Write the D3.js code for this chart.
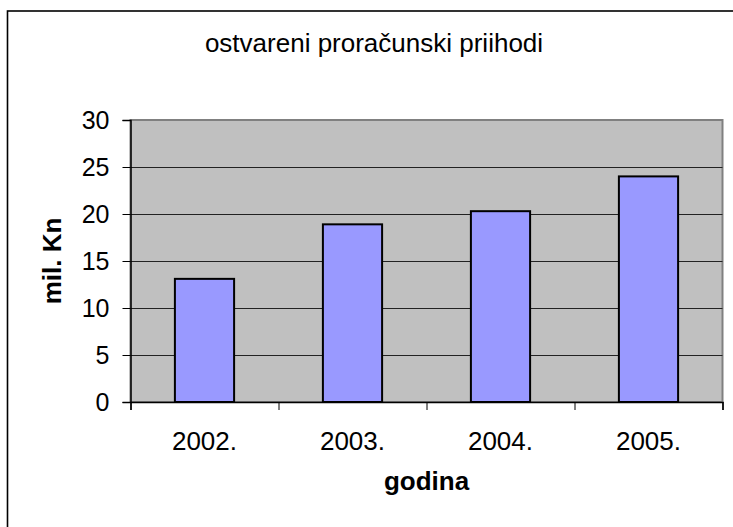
<!DOCTYPE html>
<html>
<head>
<meta charset="utf-8">
<script src="https://cdn.jsdelivr.net/npm/d3@7"></script>
<style>
  body { margin: 0; background: #fff; }
  svg { display: block; font-family: "Liberation Sans", Arial, sans-serif; }
</style>
</head>
<body>
<div id="chart"></div>
<script>
const years = ["2002.", "2003.", "2004.", "2005."];
const prihodi = [13.1, 18.9, 20.3, 24.0];
const yTicks = [0, 5, 10, 15, 20, 25, 30];

const chartTitle = "ostvareni proračunski priihodi";
const xTitle = "godina";
const yTitle = "mil. Kn";

const W = 733, H = 527;
const plot = {left: 130.5, right: 722.5, top: 120, bottom: 402};

const svg = d3.select("#chart")
  .append("svg")
    .attr("width", W)
    .attr("height", H);

// outer chart frame (runs off the right and bottom edge)
svg.append("rect")
  .attr("x", 7.5)
  .attr("y", 11)
  .attr("width", 760)
  .attr("height", 560)
  .attr("fill", "#fff")
  .attr("stroke", "#000")
  .attr("stroke-width", 1.6);

const x = d3.scaleBand()
  .domain(years)
  .range([plot.left, plot.right])
  .paddingInner(0.6)
  .paddingOuter(0.3);

const xEdge = d3.scaleLinear()
  .domain([0, years.length])
  .range([plot.left, plot.right]);

const y = d3.scaleLinear()
  .domain([0, 30])
  .range([plot.bottom, plot.top]);

// plot area
svg.append("rect")
  .attr("x", plot.left)
  .attr("y", plot.top)
  .attr("width", plot.right - plot.left)
  .attr("height", plot.bottom - plot.top)
  .attr("fill", "#c0c0c0")
  .attr("stroke", "#808080")
  .attr("stroke-width", 2);

// gridlines
svg.append("g")
  .selectAll("line")
  .data(yTicks.filter(d => d > 0 && d < 30))
  .enter()
  .append("line")
    .attr("x1", plot.left)
    .attr("x2", plot.right)
    .attr("y1", d => Math.round(y(d)) + 0.5)
    .attr("y2", d => Math.round(y(d)) + 0.5)
    .attr("stroke", "#222")
    .attr("stroke-width", 1);

// bars
svg.append("g")
  .selectAll("rect")
  .data(prihodi)
  .enter()
  .append("rect")
    .attr("x", (d, i) => x(years[i]))
    .attr("y", d => y(d))
    .attr("width", x.bandwidth())
    .attr("height", d => y(0) - y(d))
    .attr("fill", "#9999ff")
    .attr("stroke", "#000")
    .attr("stroke-width", 2);

// y axis
const yAxis = svg.append("g")
  .attr("transform", `translate(${plot.left}, 0)`)
  .call(d3.axisLeft(y).tickValues(yTicks).tickSize(8).tickPadding(13).tickFormat(d3.format("d")));
yAxis.select(".domain").attr("stroke", "#000").attr("stroke-width", 1.5);
yAxis.selectAll(".tick line").attr("stroke", "#000");
yAxis.selectAll(".tick text")
  .attr("font-size", 25)
  .attr("font-family", "Liberation Sans, Arial, sans-serif")
  .attr("fill", "#000");

// x axis: ticks sit between the categories
const xAxis = svg.append("g")
  .attr("transform", `translate(0, ${plot.bottom})`)
  .call(d3.axisBottom(xEdge).ticks(years.length).tickSize(8).tickFormat(""));
xAxis.select(".domain").attr("stroke", "#000").attr("stroke-width", 1.5);
xAxis.selectAll(".tick line").attr("stroke", "#000");

svg.append("g")
  .selectAll("text")
  .data(years)
  .enter()
  .append("text")
    .attr("x", d => x(d) + x.bandwidth() / 2)
    .attr("y", 450)
    .attr("text-anchor", "middle")
    .attr("font-size", 26)
    .text(d => d);

// titles
svg.append("text")
  .attr("x", 374)
  .attr("y", 52)
  .attr("text-anchor", "middle")
  .attr("font-size", 26)
  .text(chartTitle);

svg.append("text")
  .attr("x", (plot.left + plot.right) / 2)
  .attr("y", 490)
  .attr("text-anchor", "middle")
  .attr("font-size", 26)
  .attr("font-weight", "bold")
  .text(xTitle);

svg.append("text")
  .attr("transform", `translate(61, ${(plot.top + plot.bottom) / 2}) rotate(-90)`)
  .attr("text-anchor", "middle")
  .attr("font-size", 26)
  .attr("font-weight", "bold")
  .text(yTitle);
</script>
</body>
</html>
